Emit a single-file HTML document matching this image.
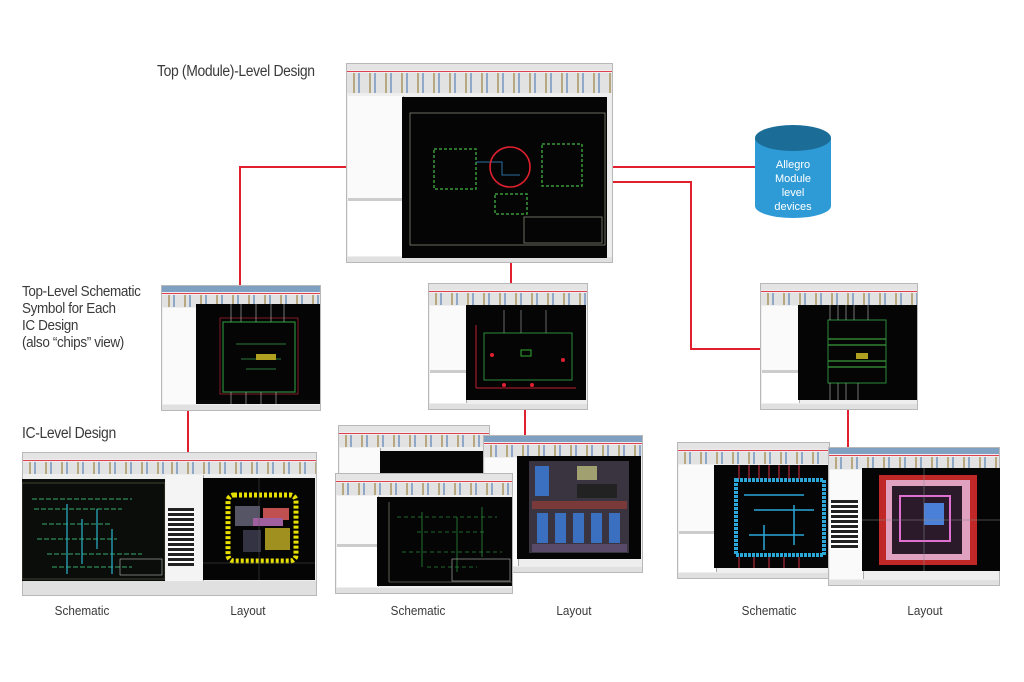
<!DOCTYPE html>
<html><head><meta charset="utf-8"><style>
body{margin:0;background:#fff;}
#r{position:relative;width:1024px;height:682px;overflow:hidden;background:#fff;font-family:"Liberation Sans",sans-serif;}
.t{position:absolute;color:#3a3a3a;font-size:14px;letter-spacing:-0.4px;transform:scaleX(.9);transform-origin:left top;white-space:nowrap;}
.lb{position:absolute;color:#3a3a3a;font-size:13px;width:100px;text-align:center;transform:scaleX(.9);}
.w{position:absolute;background:#eeeeee;border:1px solid #b8b8b8;box-sizing:border-box;overflow:hidden;}
.w .tb{position:absolute;left:0;right:0;top:0;height:6px;background:#e4e4e4;}
.w .rl{position:absolute;left:0;right:0;top:7px;height:1px;background:#e04050;}
.w .tool{position:absolute;left:0;right:0;top:9px;height:12px;background:repeating-linear-gradient(90deg,#e2e2e2 0 6px,#b8a880 6px 8px,#e2e2e2 8px 11px,#8fa8c8 11px 13px,#e2e2e2 13px 16px);}
.w .pn{position:absolute;left:1px;top:22px;bottom:6px;background:#fafafa;border-right:1px solid #aaa;}
.w .pn2{position:absolute;left:1px;bottom:6px;background:#fff;border-top:3px solid #ccc;}
.w .sb{position:absolute;left:0;right:0;bottom:0;height:5px;background:#e0e0e0;}
.c{position:absolute;background:#050505;overflow:hidden;}
.l{position:absolute;background:#e0202e;}
</style></head><body><div id="r">

<div class="l" style="left:240px;top:166px;width:198px;height:2px"></div>
<div class="l" style="left:239px;top:166px;width:2px;height:120px"></div>
<div class="l" style="left:578px;top:166px;width:179px;height:2px"></div>
<div class="l" style="left:582px;top:181px;width:110px;height:2px"></div>
<div class="l" style="left:690px;top:181px;width:2px;height:169px"></div>
<div class="l" style="left:690px;top:348px;width:72px;height:2px"></div>
<div class="l" style="left:510px;top:208px;width:2px;height:78px"></div>
<div class="l" style="left:187px;top:410px;width:2px;height:44px"></div>
<div class="l" style="left:524px;top:409px;width:2px;height:28px"></div>
<div class="l" style="left:847px;top:409px;width:2px;height:45px"></div>

<div class="t" style="left:157px;top:63px;font-size:15.5px">Top (Module)-Level Design</div>
<div class="t" style="left:22px;top:283px;font-size:15px;line-height:17px">Top-Level Schematic<br>Symbol for Each<br>IC Design<br>(also “chips” view)</div>
<div class="t" style="left:22px;top:425px;font-size:15.5px">IC-Level Design</div>
<div class="lb" style="left:32px;top:603px">Schematic</div>
<div class="lb" style="left:198px;top:603px">Layout</div>
<div class="lb" style="left:368px;top:603px">Schematic</div>
<div class="lb" style="left:524px;top:603px">Layout</div>
<div class="lb" style="left:719px;top:603px">Schematic</div>
<div class="lb" style="left:875px;top:603px">Layout</div>

<svg style="position:absolute;left:750px;top:120px" width="86" height="104">
<path d="M5 18 L5 86 A38 12 0 0 0 81 86 L81 18 Z" fill="#2e9bd6"/>
<ellipse cx="43" cy="18" rx="38" ry="13" fill="#1b6d98"/>
<text x="43" y="48" fill="#fff" font-size="11" text-anchor="middle" font-family="Liberation Sans">Allegro</text>
<text x="43" y="62" fill="#fff" font-size="11" text-anchor="middle" font-family="Liberation Sans">Module</text>
<text x="43" y="76" fill="#fff" font-size="11" text-anchor="middle" font-family="Liberation Sans">level</text>
<text x="43" y="90" fill="#fff" font-size="11" text-anchor="middle" font-family="Liberation Sans">devices</text>
</svg>

<div class="w" style="left:346px;top:63px;width:267px;height:200px"><div class="tb"></div><div class="rl"></div><div class="tool" style="height:20px"></div><div class="pn" style="width:55px;top:32px"></div><div class="pn2" style="width:55px;height:55px"></div><div class="sb"></div></div>
<div class="c" style="left:402px;top:97px;width:205px;height:161px">
<svg width="205" height="161"><rect x="8" y="16" width="195" height="132" fill="none" stroke="#998" stroke-width=".7"/>
<rect x="32" y="52" width="42" height="40" fill="none" stroke="#3a9a3a" stroke-width="1.5" stroke-dasharray="3 2"/>
<rect x="140" y="47" width="40" height="42" fill="none" stroke="#3a9a3a" stroke-width="1.5" stroke-dasharray="3 2"/>
<rect x="93" y="97" width="32" height="20" fill="none" stroke="#3a9a3a" stroke-width="1.5" stroke-dasharray="3 2"/>
<path d="M74 65 H100 V78 H118" stroke="#2a70a0" fill="none"/>
<circle cx="108" cy="70" r="20" fill="none" stroke="#e0202e" stroke-width="1.6"/>
<rect x="122" y="120" width="78" height="26" fill="none" stroke="#998" stroke-width=".7"/></svg></div>

<div class="w" style="left:161px;top:285px;width:160px;height:126px"><div class="tb" style="background:#7fa0c0"></div><div class="rl"></div><div class="tool"></div><div class="pn" style="width:34px"></div><div class="sb"></div></div>
<div class="c" style="left:196px;top:304px;width:124px;height:100px">
<svg width="124" height="100"><rect x="27" y="18" width="72" height="70" fill="none" stroke="#2a8a3a" stroke-width="1.2"/><rect x="24" y="14" width="78" height="76" fill="none" stroke="#a02030" stroke-width=".8"/>
<path d="M40 40 H90 M45 55 H85 M50 65 H80" stroke="#2a7a3a"/><rect x="60" y="50" width="20" height="6" fill="#b0a020"/>
<path d="M35 0 V18 M45 0 V18 M60 0 V18 M75 0 V18 M88 0 V18 M35 88 V100 M50 88 V100 M65 88 V100 M80 88 V100" stroke="#bbb" stroke-width=".6"/></svg></div>

<div class="w" style="left:428px;top:283px;width:160px;height:127px"><div class="tb"></div><div class="rl"></div><div class="tool"></div><div class="pn" style="width:36px"></div><div class="pn2" style="width:36px;height:30px"></div><div class="sb"></div></div>
<div class="c" style="left:466px;top:305px;width:120px;height:95px">
<svg width="120" height="95"><rect x="18" y="28" width="88" height="47" fill="none" stroke="#2a8a3a" stroke-width="1"/><path d="M10 83 H110 M10 20 V83" stroke="#c02030"/>
<circle cx="26" cy="50" r="2" fill="#e02030"/><circle cx="97" cy="55" r="2" fill="#e02030"/><circle cx="38" cy="80" r="2" fill="#e02030"/><circle cx="66" cy="80" r="2" fill="#e02030"/>
<path d="M38 5 V28 M55 5 V28 M80 5 V28" stroke="#aaa" stroke-width=".6"/><rect x="55" y="45" width="10" height="6" fill="none" stroke="#3a3"/></svg></div>

<div class="w" style="left:760px;top:283px;width:158px;height:127px"><div class="tb"></div><div class="rl"></div><div class="tool"></div><div class="pn" style="width:37px"></div><div class="pn2" style="width:37px;height:30px"></div><div class="sb"></div></div>
<div class="c" style="left:798px;top:305px;width:119px;height:95px">
<svg width="119" height="95"><rect x="30" y="15" width="58" height="63" fill="none" stroke="#2a8a3a"/><path d="M30 34 H88 M30 40 H88 M30 56 H88 M30 62 H88" stroke="#3a9a3a" stroke-width="1.2"/>
<path d="M32 0 V15 M40 0 V15 M48 0 V15 M56 0 V15 M70 0 V15 M32 78 V95 M40 78 V95 M48 78 V95 M60 78 V95" stroke="#bbb" stroke-width=".6"/><rect x="58" y="48" width="12" height="6" fill="#b0a020"/></svg></div>

<div class="w" style="left:22px;top:452px;width:144px;height:144px"><div class="tb"></div><div class="rl"></div><div class="tool"></div><div class="sb" style="height:14px"></div></div>
<div class="c" style="left:22px;top:479px;width:143px;height:102px;background:#0a0d0a">
<svg width="143" height="102"><rect x="0" y="4" width="143" height="96" fill="none" stroke="#6a6a50" stroke-width=".6"/>
<path d="M10 20 H110 M12 30 H100 M20 45 H90 M15 60 H95 M25 75 H120 M30 88 H110" stroke="#2d8a5a" stroke-width="1.3" stroke-dasharray="5 2"/>
<path d="M45 25 V95 M60 40 V85 M75 30 V70 M90 50 V95" stroke="#2aa8c0" stroke-width="1.3"/>
<rect x="98" y="80" width="42" height="16" fill="none" stroke="#bbb" stroke-width=".6"/></svg></div>
<div class="w" style="left:165px;top:452px;width:152px;height:144px;border-left:none"><div class="tb"></div><div class="rl"></div><div class="tool"></div><div class="pn" style="width:37px;background:#f4f4f4"></div><div class="sb" style="height:14px"></div></div>
<div style="position:absolute;left:168px;top:508px;width:26px;height:58px;background:repeating-linear-gradient(#222 0 3px,#fff 3px 5px)"></div>
<div class="c" style="left:203px;top:478px;width:112px;height:102px">
<svg width="112" height="102"><rect x="25" y="17" width="68" height="66" rx="6" fill="none" stroke="#e8e000" stroke-width="5" stroke-dasharray="3 2"/>
<rect x="32" y="28" width="25" height="20" fill="#556"/><rect x="60" y="30" width="26" height="12" fill="#c05050"/><rect x="40" y="52" width="18" height="22" fill="#334"/><rect x="62" y="50" width="25" height="22" fill="#a09020"/><rect x="50" y="40" width="30" height="8" fill="#a060a0"/>
<path d="M0 85 H112 M56 0 V102" stroke="#555" stroke-width=".5"/></svg></div>

<div class="w" style="left:338px;top:425px;width:152px;height:60px"><div class="tb"></div><div class="rl"></div><div class="tool"></div><div class="pn" style="width:40px"></div></div>
<div class="c" style="left:380px;top:451px;width:105px;height:22px"></div>
<div class="w" style="left:483px;top:435px;width:160px;height:138px"><div class="tb" style="background:#7fa0c0"></div><div class="rl"></div><div class="tool"></div><div class="pn" style="width:33px"></div><div class="sb"></div></div>
<div class="c" style="left:517px;top:456px;width:124px;height:103px">
<svg width="124" height="103"><rect x="12" y="5" width="100" height="92" fill="#3a3440"/>
<rect x="18" y="10" width="14" height="30" fill="#3b6fc0"/><rect x="60" y="10" width="20" height="14" fill="#a0a070"/><rect x="60" y="28" width="40" height="14" fill="#222"/><rect x="15" y="45" width="95" height="8" fill="#7a3a3a"/>
<rect x="20" y="57" width="11" height="30" fill="#3b6fc0"/><rect x="38" y="57" width="11" height="30" fill="#3b6fc0"/><rect x="56" y="57" width="11" height="30" fill="#3b6fc0"/><rect x="74" y="57" width="11" height="30" fill="#3b6fc0"/><rect x="92" y="57" width="11" height="30" fill="#3b6fc0"/>
<rect x="15" y="88" width="95" height="8" fill="#5a4a6a"/></svg></div>
<div class="w" style="left:335px;top:473px;width:178px;height:121px"><div class="tb"></div><div class="rl"></div><div class="tool"></div><div class="pn" style="width:41px"></div><div class="pn2" style="width:41px;height:40px"></div><div class="sb"></div></div>
<div class="c" style="left:377px;top:497px;width:135px;height:89px">
<svg width="135" height="89"><path d="M12 5 V85 M12 85 H135" stroke="#998" stroke-width=".6"/>
<path d="M20 20 H120 M40 35 H110 M25 55 H125 M50 70 H100" stroke="#2a8a3a" stroke-width=".8" stroke-dasharray="4 3"/><path d="M45 15 V70 M80 20 V75 M105 10 V60" stroke="#2a8a3a" stroke-width=".8"/>
<rect x="75" y="62" width="58" height="22" fill="none" stroke="#bbb" stroke-width=".6"/></svg></div>

<div class="w" style="left:677px;top:442px;width:153px;height:137px"><div class="tb"></div><div class="rl"></div><div class="tool"></div><div class="pn" style="width:37px"></div><div class="pn2" style="width:37px;height:38px"></div><div class="sb"></div></div>
<div class="c" style="left:714px;top:465px;width:116px;height:103px">
<svg width="116" height="103"><rect x="22" y="15" width="88" height="75" fill="none" stroke="#2aa8d8" stroke-width="4" stroke-dasharray="3 1"/>
<path d="M30 30 H90 M40 45 H100 M50 60 V85 M35 70 H90 M80 40 V80" stroke="#2aa8d8" stroke-width="1.5"/>
<path d="M25 0 V14 M35 0 V14 M45 0 V14 M55 0 V14 M65 0 V14 M75 0 V14 M85 0 V14 M25 92 V103 M40 92 V103 M55 92 V103 M70 92 V103 M85 92 V103" stroke="#d03040" stroke-width="1"/></svg></div>
<div class="w" style="left:828px;top:447px;width:172px;height:139px"><div class="tb" style="background:#7fa0c0"></div><div class="rl"></div><div class="tool"></div><div class="pn" style="width:33px"></div><div class="sb"></div></div>
<div style="position:absolute;left:831px;top:500px;width:27px;height:50px;background:repeating-linear-gradient(#222 0 3px,#fff 3px 5px)"></div>
<div class="c" style="left:862px;top:468px;width:138px;height:103px">
<svg width="138" height="103"><rect x="17" y="7" width="98" height="90" fill="#c02828"/><rect x="24" y="12" width="84" height="80" fill="#e0a0c0"/>
<rect x="30" y="18" width="70" height="68" fill="#2a1a2a"/><rect x="38" y="28" width="50" height="45" fill="none" stroke="#e070d0" stroke-width="2"/>
<rect x="62" y="35" width="20" height="22" fill="#4a80d8"/><path d="M0 52 H138 M62 0 V103" stroke="#888" stroke-width=".5"/></svg></div>

</div></body></html>
